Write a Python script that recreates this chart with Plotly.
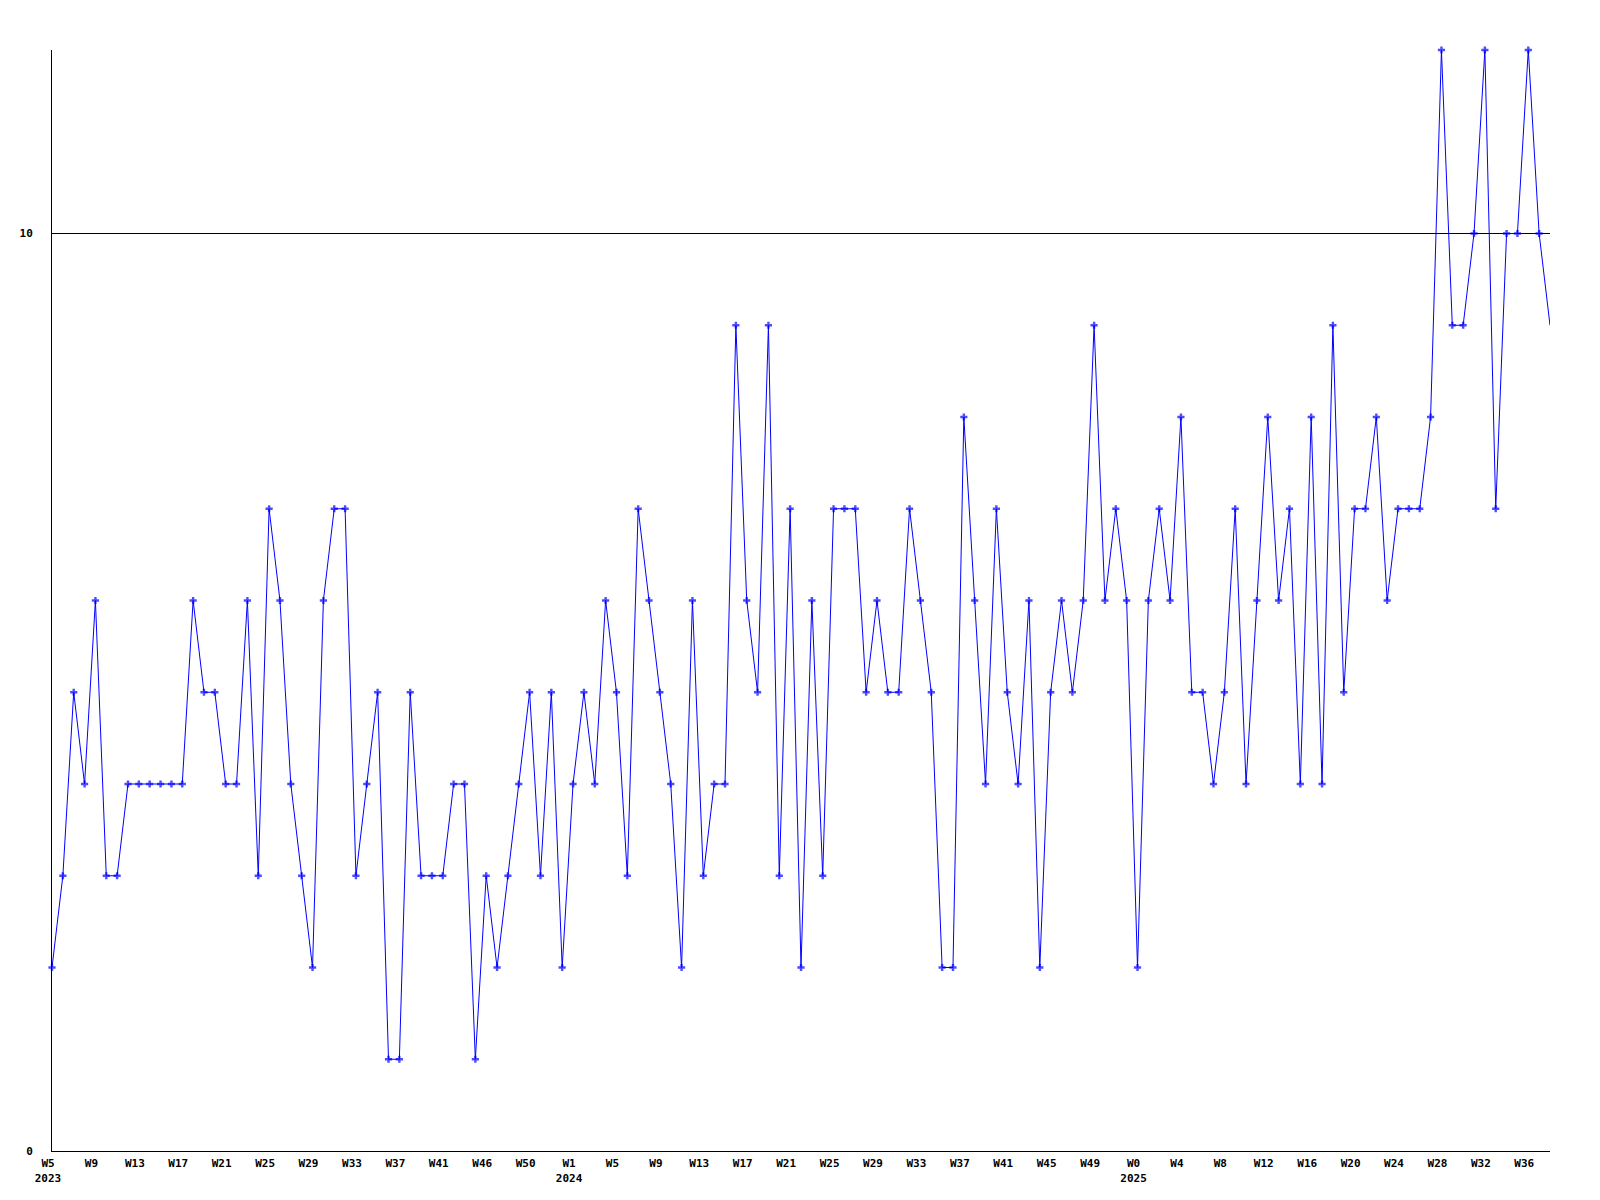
import plotly.graph_objects as go

# Weekly values (one point per week slot)
values = [2, 3, 5, 4, 6, 3, 3, 4, 4, 4, 4, 4, 4, 6, 5, 5, 4, 4, 6, 3,
          7, 6, 4, 3, 2, 6, 7, 7, 3, 4, 5, 1, 1, 5, 3, 3, 3, 4, 4, 1,
          3, 2, 3, 4, 5, 3, 5, 2, 4, 5, 4, 6, 5, 3, 7, 6, 5, 4, 2, 6,
          3, 4, 4, 9, 6, 5, 9, 3, 7, 2, 6, 3, 7, 7, 7, 5, 6, 5, 5, 7,
          6, 5, 2, 2, 8, 6, 4, 7, 5, 4, 6, 2, 5, 6, 5, 6, 9, 6, 7, 6,
          2, 6, 7, 6, 8, 5, 5, 4, 5, 7, 4, 6, 8, 6, 7, 4, 8, 4, 9, 5,
          7, 7, 8, 6, 7, 7, 7, 8, 12, 9, 9, 10, 12, 7, 10, 10, 12, 10, 9]

# Tick labels shown every 4th week slot
tick_labels = ["W5<br>2023", "W9", "W13", "W17", "W21", "W25", "W29", "W33",
               "W37", "W41", "W46", "W50",
               "W1<br>2024", "W5", "W9", "W13", "W17", "W21", "W25", "W29",
               "W33", "W37", "W41", "W45", "W49",
               "W0<br>2025", "W4", "W8", "W12", "W16", "W20", "W24", "W28",
               "W32", "W36"]
label_step = 4

y_ticks = [0, 10]

n = len(values)
x = list(range(n))
tick_positions = list(range(0, n, label_step))[:len(tick_labels)]
marker_sizes = [6] * (n - 1) + [0]

font_family = "DejaVu Sans Mono, Liberation Mono, monospace"

fig = go.Figure()
fig.add_trace(go.Scatter(
    x=x, y=values, mode="lines+markers",
    line=dict(color="#0000ff", width=1),
    marker=dict(symbol="cross", size=marker_sizes, color="#0000ff",
                line=dict(width=0)),
    cliponaxis=False,
    showlegend=False, hoverinfo="y",
))

fig.update_layout(
    width=1600, height=1200,
    margin=dict(l=42, r=58, t=42, b=57, pad=0),
    paper_bgcolor="white", plot_bgcolor="white",
    font=dict(family=font_family, size=11, color="black", weight="bold"),
    showlegend=False,
)

fig.update_xaxes(
    range=[0, n - 1],
    tickmode="array", tickvals=tick_positions, ticktext=tick_labels,
    showgrid=False, zeroline=False,
    showline=True, linecolor="black", linewidth=1,
    ticks="", ticklabelstandoff=2, ticklabelshift=-4,
    tickfont=dict(family=font_family, size=11, color="black", weight="bold"),
)

fig.update_yaxes(
    range=[0, 12],
    tickmode="array", tickvals=y_ticks, ticktext=[str(v) for v in y_ticks],
    showgrid=True, gridcolor="black", gridwidth=1,
    zeroline=False,
    showline=True, linecolor="black", linewidth=1,
    ticks="", ticklabelstandoff=16,
    tickfont=dict(family=font_family, size=11, color="black", weight="bold"),
)

fig.write_html("out.html")
